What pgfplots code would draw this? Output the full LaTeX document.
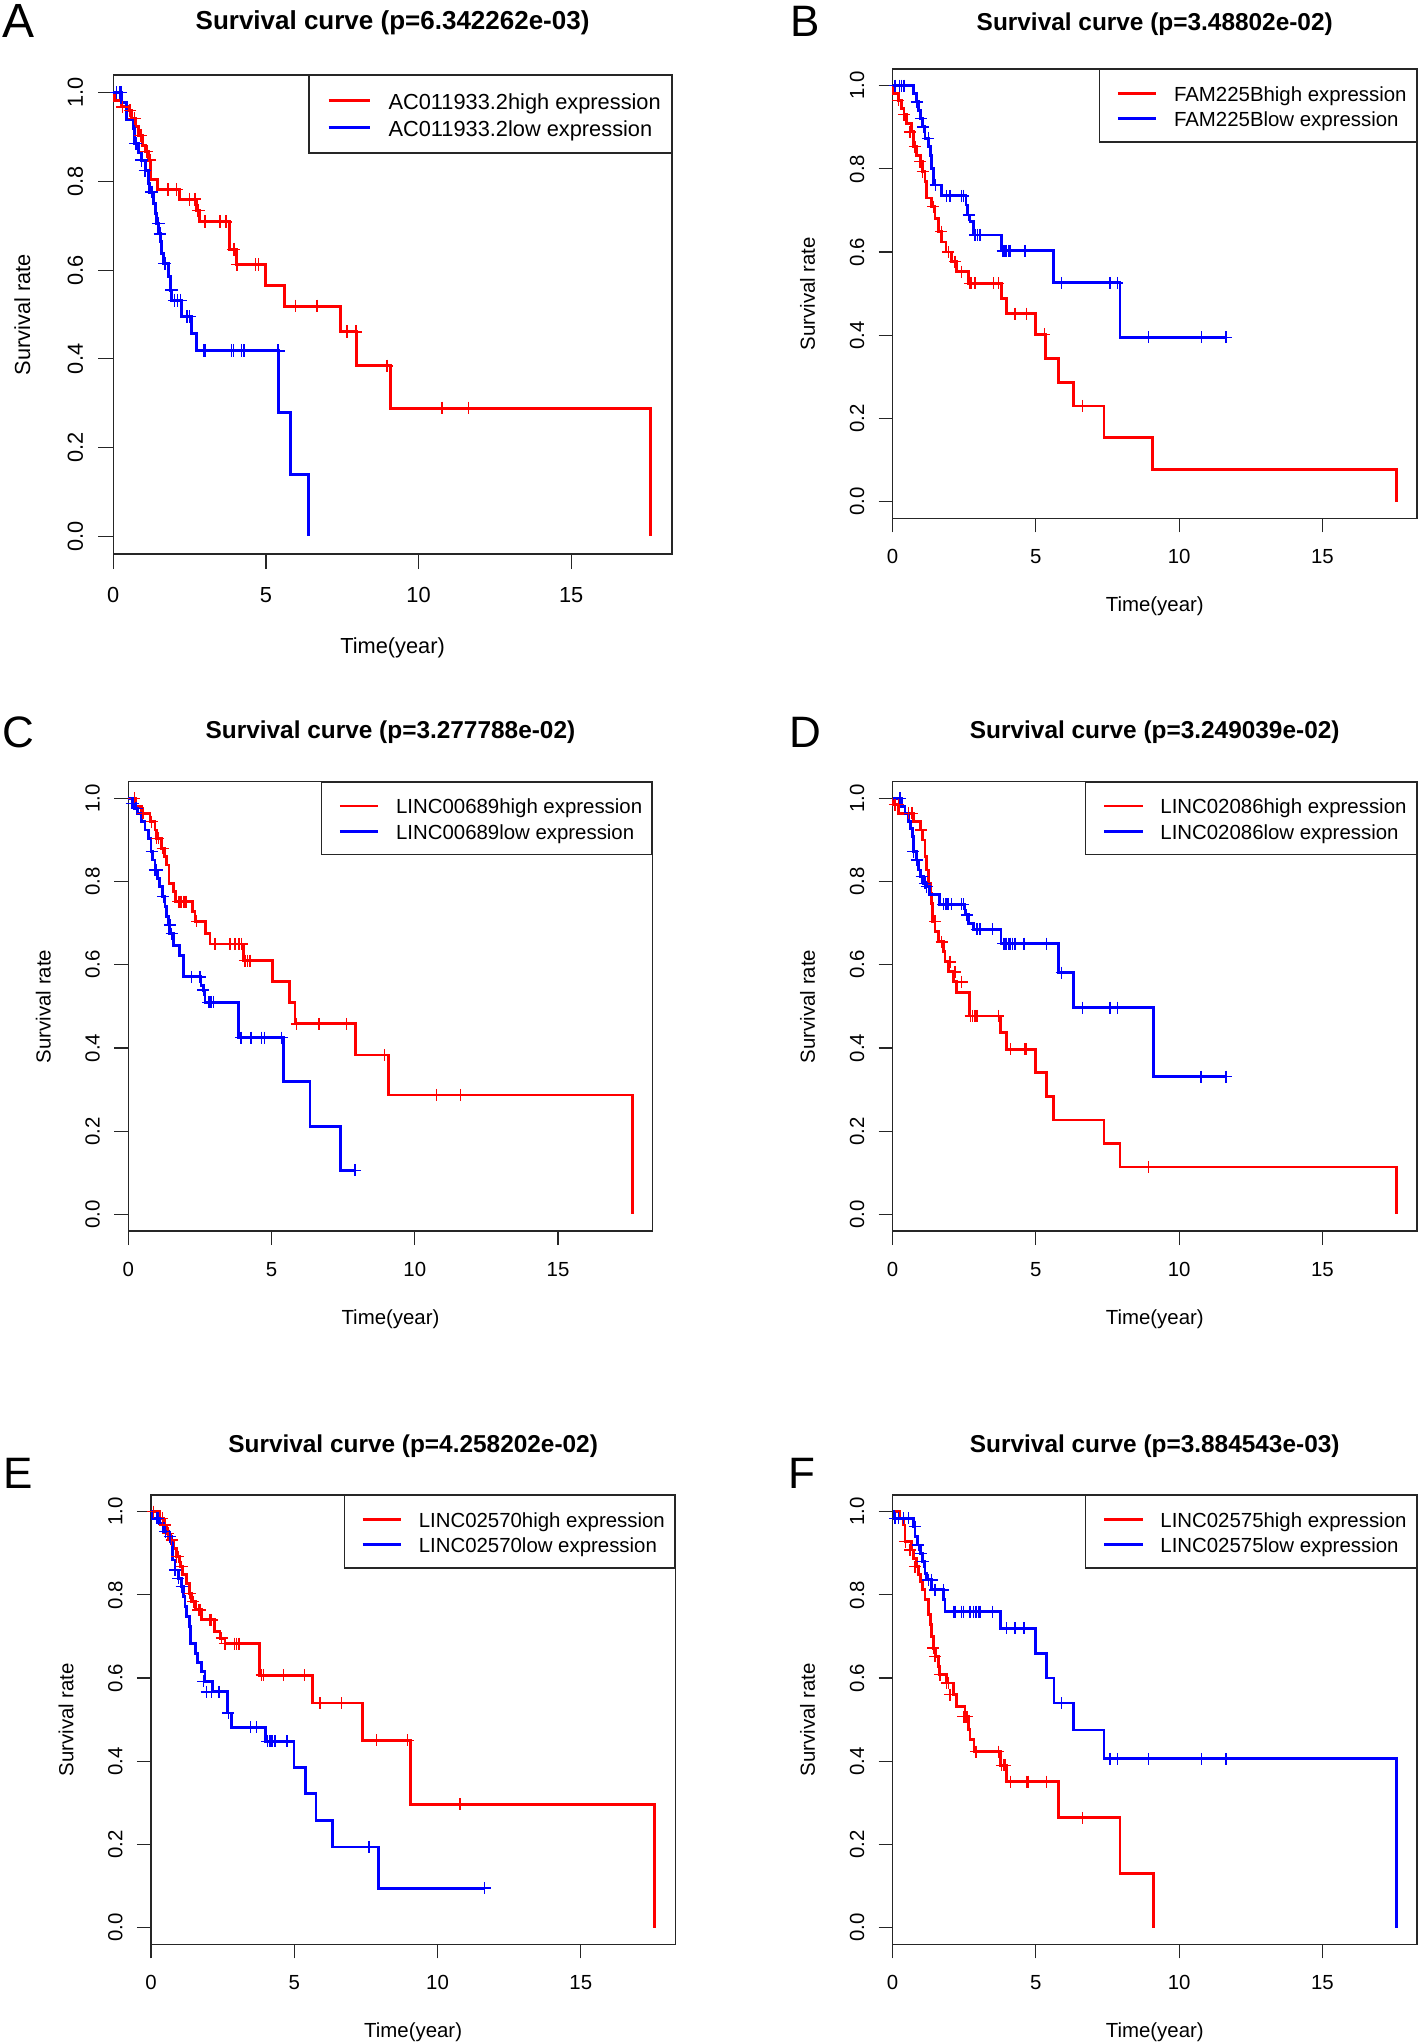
\documentclass[border=0pt]{standalone}
\usepackage{fontspec}
\setmainfont{Liberation Sans}
\usepackage{pgfplots}
\pgfplotsset{compat=1.18}
\pgfplotsset{
  km/.style={
    scale only axis, clip=false,
    xmin=0, xmax=18.3, ymin=-0.04, ymax=1.04,
    xtick={0,5,10,15}, xticklabels={0,5,10,15},
    ytick={0,0.2,0.4,0.6,0.8,1}, yticklabels={0.0,0.2,0.4,0.6,0.8,1.0},
    xtick pos=left, ytick pos=left, tick align=outside,
    axis line style={line width=0.6pt, black!85},
    every tick/.style={line width=0.6pt, black!85},
    xlabel={Time(year)}, ylabel={Survival rate},
    legend cell align=left,
  },
  kmA/.style={km, width=279.3pt, height=239.5pt,
    major tick length=7.5pt,
    tick label style={font=\fontsize{10.9}{13}\selectfont},
    label style={font=\fontsize{10.9}{13}\selectfont},
    xticklabel style={anchor=center, yshift=-13.2pt},
    yticklabel style={anchor=center, xshift=-11.5pt, rotate=90},
    xlabel style={at={(axis description cs:0.5,0)}, anchor=center, yshift=-46.85pt},
    ylabel style={at={(axis description cs:0,0.5)}, anchor=center, yshift=45.5pt},
    title style={at={(axis description cs:0.5,1)}, anchor=center, yshift=20.15pt, font=\bfseries\fontsize{13}{15}\selectfont},
    legend style={at={(axis description cs:1,1)}, anchor=north east, draw=black!85, line width=0.6pt,
      inner xsep=5.25pt, inner ysep=5.9pt, column sep=0pt, row sep=0pt,
      font=\fontsize{10.9}{13}\selectfont, nodes={inner sep=0pt, text height=11pt, text depth=2.45pt}},
    legend image code/.code={\path[draw=none, fill=none] (0pt,0pt) -- (34.55pt,0pt); \draw[##1, line width=1.5pt] (4.55pt,0pt) -- (25.05pt,0pt);},
    hi/.style={const plot, color=red, line width=1.5pt, mark=none},
    lo/.style={const plot, color=blue, line width=1.5pt, mark=none},
    cens/.style={only marks, mark=+, mark size=3.2pt, mark options={line width=0.75pt}, forget plot},
  },
  kmB/.style={km, width=262.15pt, height=224.65pt,
    major tick length=7pt,
    tick label style={font=\fontsize{10.2}{12.2}\selectfont},
    label style={font=\fontsize{10.2}{12.2}\selectfont},
    xticklabel style={anchor=center, yshift=-12.3pt},
    yticklabel style={anchor=center, xshift=-10.8pt, rotate=90},
    xlabel style={at={(axis description cs:0.5,0)}, anchor=center, yshift=-44pt},
    ylabel style={at={(axis description cs:0,0.5)}, anchor=center, yshift=42.5pt},
    title style={at={(axis description cs:0.5,1)}, anchor=center, yshift=18.6pt, font=\bfseries\fontsize{12.2}{14}\selectfont},
    legend style={at={(axis description cs:1,1)}, anchor=north east, draw=black!85, line width=0.6pt,
      inner xsep=4.9pt, inner ysep=5.5pt, column sep=0pt, row sep=0pt,
      font=\fontsize{10.2}{12.2}\selectfont, nodes={inner sep=0pt, text height=10.3pt, text depth=2.3pt}},
    legend image code/.code={\path[draw=none, fill=none] (0pt,0pt) -- (32.4pt,0pt); \draw[##1, line width=1.4pt] (4.27pt,0pt) -- (23.5pt,0pt);},
    hi/.style={const plot, color=red, line width=1.4pt, mark=none},
    lo/.style={const plot, color=blue, line width=1.4pt, mark=none},
    cens/.style={only marks, mark=+, mark size=3pt, mark options={line width=0.7pt}, forget plot},
  },
}
\begin{document}
\begin{tikzpicture}
\path[use as bounding box] (0pt,0pt) rectangle (709pt,-1022pt);
% ---------------- A
\begin{axis}[kmA, at={(56.65pt,-37.5pt)}, anchor=north west, title={Survival curve (p=6.342262e-03)}]
\addplot[hi] coordinates {(0,1) (0.03,0.983) (0.27,0.968) (0.5,0.96) (0.6,0.942) (0.72,0.923) (0.82,0.904) (0.95,0.882) (1.05,0.867) (1.15,0.848) (1.22,0.804) (1.44,0.782) (2.16,0.76) (2.73,0.735) (2.84,0.709) (3.8,0.647) (4.02,0.613) (5.0,0.566) (5.62,0.519) (7.43,0.461) (7.98,0.384) (9.09,0.289) (17.6,0)};
\addlegendentry{AC011933.2high expression}
\addplot[lo] coordinates {(0,1) (0.28,0.979) (0.42,0.94) (0.66,0.92) (0.71,0.886) (0.82,0.865) (0.93,0.848) (1.04,0.825) (1.15,0.795) (1.2,0.776) (1.31,0.75) (1.37,0.728) (1.42,0.705) (1.48,0.682) (1.53,0.664) (1.58,0.637) (1.64,0.615) (1.8,0.585) (1.86,0.555) (1.91,0.532) (2.24,0.495) (2.57,0.457) (2.71,0.418) (5.4,0.28) (5.81,0.14) (6.39,0)};
\addlegendentry{AC011933.2low expression}
\addplot[cens, red] coordinates {(0.3,0.968) (0.55,0.96) (0.7,0.942) (0.9,0.904) (1.1,0.867) (1.2,0.848) (1.8,0.782) (2.07,0.782) (2.49,0.76) (2.67,0.76) (2.78,0.735) (3.0,0.709) (3.49,0.709) (3.69,0.709) (3.95,0.647) (4.06,0.613) (4.66,0.613) (4.75,0.613) (5.97,0.519) (6.68,0.519) (7.65,0.461) (7.95,0.461) (8.96,0.384) (10.77,0.289) (11.63,0.289)};
\addplot[cens, blue] coordinates {(0.1,1) (0.2,1) (0.25,1) (0.74,0.886) (0.93,0.848) (1.04,0.825) (1.26,0.776) (1.47,0.705) (1.53,0.682) (1.69,0.615) (1.91,0.555) (2.0,0.532) (2.1,0.532) (2.2,0.532) (2.42,0.495) (2.49,0.495) (2.95,0.418) (3.0,0.418) (3.88,0.418) (3.93,0.418) (4.2,0.418) (4.28,0.418) (5.4,0.418)};
\end{axis}
% ---------------- B
\begin{axis}[kmB, at={(446.3pt,-34.5pt)}, anchor=north west, title={Survival curve (p=3.48802e-02)}, title style={yshift=-2pt}]
\addplot[hi] coordinates {(0,1) (0.03,0.981) (0.2,0.965) (0.32,0.945) (0.4,0.93) (0.49,0.909) (0.67,0.889) (0.72,0.853) (0.82,0.833) (0.96,0.817) (1.05,0.793) (1.13,0.769) (1.19,0.73) (1.36,0.709) (1.48,0.681) (1.6,0.649) (1.71,0.624) (1.86,0.6) (2.06,0.577) (2.24,0.553) (2.64,0.525) (3.81,0.489) (3.98,0.452) (5.0,0.402) (5.35,0.344) (5.78,0.286) (6.31,0.23) (7.38,0.154) (9.07,0.077) (17.6,0)};
\addlegendentry{FAM225Bhigh expression}
\addplot[lo] coordinates {(0,1) (0.72,0.981) (0.82,0.961) (0.9,0.941) (0.96,0.921) (1.05,0.901) (1.13,0.873) (1.25,0.853) (1.31,0.833) (1.36,0.801) (1.42,0.761) (1.71,0.735) (2.56,0.713) (2.61,0.689) (2.7,0.673) (2.82,0.641) (3.81,0.603) (5.61,0.526) (7.94,0.395) (11.63,0.395)};
\addlegendentry{FAM225Blow expression}
\addplot[cens, red] coordinates {(0.2,0.965) (0.4,0.93) (0.6,0.889) (0.78,0.853) (0.96,0.817) (1.05,0.793) (1.42,0.709) (1.7,0.649) (1.95,0.6) (2.18,0.577) (2.4,0.553) (2.7,0.525) (2.76,0.525) (2.88,0.525) (3.52,0.525) (3.69,0.525) (4.27,0.452) (4.68,0.452) (5.3,0.402) (6.63,0.23)};
\addplot[cens, blue] coordinates {(0.08,1) (0.23,1) (0.32,1) (0.4,1) (0.85,0.961) (1.0,0.921) (1.07,0.901) (1.25,0.873) (1.5,0.761) (1.89,0.735) (2.0,0.735) (2.41,0.735) (2.47,0.735) (2.65,0.689) (2.88,0.641) (2.96,0.641) (3.05,0.641) (3.84,0.603) (3.89,0.603) (3.96,0.603) (4.04,0.603) (4.1,0.603) (4.62,0.603) (5.9,0.526) (7.59,0.526) (7.84,0.526) (8.94,0.395) (10.79,0.395) (11.63,0.395)};
\end{axis}
% ---------------- C
\begin{axis}[kmB, at={(64.15pt,-390.85pt)}, anchor=north west, title={Survival curve (p=3.277788e-02)}]
\addplot[hi] coordinates {(0,1) (0.25,0.98) (0.47,0.964) (0.76,0.944) (0.93,0.924) (0.99,0.904) (1.16,0.88) (1.26,0.86) (1.34,0.84) (1.42,0.796) (1.57,0.776) (1.65,0.752) (2.23,0.728) (2.33,0.704) (2.7,0.675) (2.85,0.65) (4.01,0.61) (5.03,0.559) (5.64,0.51) (5.82,0.458) (7.94,0.383) (9.07,0.287) (17.6,0)};
\addlegendentry{LINC00689high expression}
\addplot[lo] coordinates {(0,1) (0.14,0.988) (0.23,0.976) (0.33,0.964) (0.47,0.944) (0.58,0.924) (0.7,0.904) (0.79,0.872) (0.84,0.852) (0.93,0.828) (1.02,0.808) (1.1,0.788) (1.19,0.764) (1.28,0.74) (1.34,0.716) (1.4,0.696) (1.45,0.675) (1.57,0.647) (1.8,0.623) (1.92,0.571) (2.54,0.551) (2.62,0.539) (2.68,0.51) (3.84,0.425) (5.41,0.319) (6.34,0.212) (7.42,0.106) (7.91,0.106)};
\addlegendentry{LINC00689low expression}
\addplot[cens, red] coordinates {(0.21,1) (0.52,0.964) (0.81,0.944) (0.99,0.904) (1.05,0.904) (1.2,0.88) (1.75,0.752) (1.81,0.752) (1.86,0.752) (1.92,0.752) (1.98,0.752) (2.04,0.752) (2.39,0.704) (3.03,0.65) (3.55,0.65) (3.72,0.65) (3.86,0.65) (3.96,0.65) (4.07,0.61) (4.17,0.61) (4.25,0.61) (5.88,0.458) (6.65,0.458) (7.62,0.458) (8.94,0.383) (10.76,0.287) (11.6,0.287)};
\addplot[cens, blue] coordinates {(0.12,0.988) (0.17,0.988) (0.29,0.976) (0.81,0.872) (0.93,0.828) (0.99,0.828) (1.22,0.764) (1.45,0.696) (1.51,0.675) (2.21,0.571) (2.5,0.571) (2.62,0.539) (2.79,0.51) (2.85,0.51) (2.91,0.51) (2.97,0.51) (3.93,0.425) (4.28,0.425) (4.65,0.425) (4.75,0.425) (5.35,0.425) (7.91,0.106)};
\end{axis}
% ---------------- D
\begin{axis}[kmB, at={(446.3pt,-390.85pt)}, anchor=north west, title={Survival curve (p=3.249039e-02)}]
\addplot[hi] coordinates {(0,1) (0.03,0.985) (0.2,0.964) (0.72,0.944) (0.96,0.924) (1.05,0.9) (1.13,0.86) (1.19,0.828) (1.25,0.796) (1.31,0.772) (1.36,0.748) (1.4,0.704) (1.48,0.68) (1.6,0.655) (1.77,0.631) (1.83,0.607) (1.95,0.583) (2.12,0.559) (2.24,0.533) (2.68,0.477) (3.77,0.437) (3.98,0.397) (5.0,0.341) (5.38,0.284) (5.62,0.227) (7.38,0.171) (7.94,0.114) (17.6,0)};
\addlegendentry{LINC02086high expression}
\addplot[lo] coordinates {(0,1) (0.32,0.98) (0.43,0.964) (0.55,0.944) (0.63,0.928) (0.7,0.908) (0.72,0.872) (0.82,0.852) (0.9,0.828) (0.96,0.812) (1.07,0.796) (1.19,0.788) (1.3,0.768) (1.63,0.745) (2.53,0.72) (2.64,0.7) (2.82,0.685) (3.78,0.651) (5.79,0.581) (6.31,0.497) (9.1,0.331) (11.63,0.331)};
\addlegendentry{LINC02086low expression}
\addplot[cens, red] coordinates {(0.08,0.985) (0.2,0.985) (0.55,0.964) (0.67,0.964) (1.0,0.924) (1.48,0.704) (1.71,0.655) (2.0,0.607) (2.18,0.583) (2.41,0.559) (2.72,0.477) (2.79,0.477) (2.88,0.477) (2.94,0.477) (3.69,0.477) (4.12,0.397) (4.62,0.397) (4.68,0.397) (8.94,0.114)};
\addplot[cens, blue] coordinates {(0.26,1) (0.72,0.872) (0.84,0.852) (1.01,0.812) (1.13,0.796) (1.19,0.788) (1.77,0.745) (1.86,0.745) (1.94,0.745) (2.06,0.745) (2.41,0.745) (2.47,0.745) (2.58,0.72) (2.94,0.685) (3.05,0.685) (3.48,0.685) (3.87,0.651) (3.92,0.651) (3.98,0.651) (4.04,0.651) (4.1,0.651) (4.19,0.651) (4.27,0.651) (4.59,0.651) (5.38,0.651) (5.9,0.581) (6.63,0.497) (7.59,0.497) (7.84,0.497) (10.76,0.331) (11.63,0.331)};
\end{axis}
% ---------------- E
\begin{axis}[kmB, at={(75.5pt,-747.5pt)}, anchor=north west, title={Survival curve (p=4.258202e-02)}]
\addplot[hi] coordinates {(0,1) (0.31,0.984) (0.43,0.968) (0.55,0.948) (0.66,0.932) (0.78,0.912) (0.9,0.892) (1.01,0.868) (1.1,0.848) (1.24,0.828) (1.34,0.804) (1.42,0.784) (1.54,0.764) (1.77,0.74) (2.23,0.712) (2.41,0.696) (2.58,0.683) (3.8,0.607) (5.63,0.54) (7.38,0.45) (9.07,0.297) (17.58,0)};
\addlegendentry{LINC02570high expression}
\addplot[lo] coordinates {(0,1) (0.05,0.984) (0.29,0.972) (0.43,0.952) (0.6,0.94) (0.72,0.924) (0.76,0.884) (0.84,0.86) (0.95,0.84) (1.07,0.82) (1.13,0.796) (1.19,0.772) (1.24,0.748) (1.34,0.724) (1.38,0.683) (1.54,0.66) (1.62,0.638) (1.77,0.616) (1.885,0.592) (2.15,0.567) (2.66,0.516) (2.82,0.482) (4.01,0.448) (4.99,0.386) (5.38,0.322) (5.76,0.258) (6.33,0.194) (7.94,0.095) (11.65,0.095)};
\addlegendentry{LINC02570low expression}
\addplot[cens, red] coordinates {(0.08,1) (0.4,0.984) (0.5,0.968) (0.6,0.948) (0.72,0.932) (0.9,0.892) (0.95,0.892) (1.07,0.868) (1.36,0.804) (1.48,0.784) (1.65,0.764) (1.71,0.764) (2.06,0.74) (2.12,0.74) (2.47,0.696) (2.58,0.683) (2.91,0.683) (2.99,0.683) (3.07,0.683) (3.86,0.607) (3.92,0.607) (4.62,0.607) (5.35,0.607) (5.9,0.54) (6.65,0.54) (7.88,0.45) (8.96,0.45) (10.78,0.297)};
\addplot[cens, blue] coordinates {(0.2,0.984) (0.25,0.984) (0.5,0.952) (0.67,0.94) (0.84,0.86) (0.95,0.84) (1.07,0.82) (1.83,0.592) (1.94,0.567) (2.12,0.567) (2.37,0.567) (2.7,0.516) (3.48,0.482) (3.69,0.482) (4.06,0.448) (4.13,0.448) (4.19,0.448) (4.25,0.448) (4.33,0.448) (4.74,0.448) (7.61,0.194) (11.65,0.095)};
\end{axis}
% ---------------- F
\begin{axis}[kmB, at={(446.3pt,-747.5pt)}, anchor=north west, title={Survival curve (p=3.884543e-03)}]
\addplot[hi] coordinates {(0,1) (0.26,0.984) (0.37,0.968) (0.43,0.928) (0.66,0.908) (0.72,0.888) (0.82,0.868) (0.9,0.848) (0.96,0.832) (1.05,0.812) (1.13,0.788) (1.25,0.752) (1.31,0.728) (1.36,0.7) (1.42,0.672) (1.51,0.652) (1.6,0.628) (1.65,0.608) (1.89,0.588) (2.12,0.56) (2.24,0.532) (2.53,0.507) (2.64,0.476) (2.7,0.452) (2.84,0.423) (3.77,0.39) (3.98,0.351) (5.78,0.264) (7.94,0.13) (9.1,0)};
\addlegendentry{LINC02575high expression}
\addplot[lo] coordinates {(0,1) (0.05,0.984) (0.72,0.964) (0.78,0.94) (0.86,0.92) (0.96,0.9) (1.05,0.88) (1.13,0.852) (1.19,0.836) (1.36,0.812) (1.77,0.788) (1.83,0.76) (3.77,0.72) (5.0,0.66) (5.38,0.6) (5.63,0.54) (6.31,0.475) (7.38,0.406) (17.6,0)};
\addlegendentry{LINC02575low expression}
\addplot[cens, red] coordinates {(0.44,0.928) (0.61,0.908) (0.78,0.868) (1.42,0.672) (1.48,0.652) (1.65,0.608) (1.89,0.588) (1.95,0.588) (2.0,0.56) (2.47,0.507) (2.53,0.507) (2.59,0.507) (2.91,0.423) (3.69,0.423) (3.81,0.39) (3.87,0.39) (3.92,0.39) (4.12,0.351) (4.68,0.351) (4.72,0.351) (5.38,0.351) (6.63,0.264)};
\addplot[cens, blue] coordinates {(0.08,0.984) (0.2,0.984) (0.37,0.984) (0.55,0.984) (0.78,0.964) (0.9,0.92) (1.0,0.9) (1.07,0.88) (1.25,0.836) (1.36,0.836) (1.48,0.812) (1.77,0.812) (2.12,0.76) (2.18,0.76) (2.41,0.76) (2.47,0.76) (2.7,0.76) (2.82,0.76) (2.91,0.76) (2.99,0.76) (3.05,0.76) (3.48,0.76) (3.98,0.72) (4.27,0.72) (4.59,0.72) (5.9,0.54) (7.59,0.406) (7.84,0.406) (8.94,0.406) (10.79,0.406) (11.63,0.406)};
\end{axis}
% panel letters
\node[font=\fontsize{24}{24}\selectfont] at (9.5pt,-10.5pt) {A};
\node[font=\fontsize{22}{22}\selectfont] at (402.5pt,-10.5pt) {B};
\node[font=\fontsize{22}{22}\selectfont] at (9pt,-366pt) {C};
\node[font=\fontsize{22}{22}\selectfont] at (402.5pt,-366pt) {D};
\node[font=\fontsize{22}{22}\selectfont] at (9pt,-736.5pt) {E};
\node[font=\fontsize{22}{22}\selectfont] at (401pt,-736.5pt) {F};
\end{tikzpicture}
\end{document}
